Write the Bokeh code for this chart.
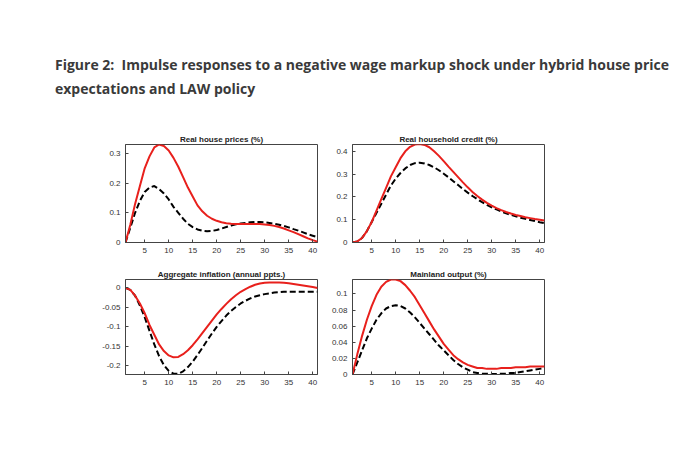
from bokeh.plotting import figure
from bokeh.layouts import column, row
from bokeh.models import Div, Spacer, Range1d, FixedTicker
from bokeh.embed import file_html
from bokeh.resources import INLINE

x = list(range(1, 42))
house_red = [0.0,0.06,0.13,0.19,0.25,0.29,0.32,0.33,0.325,0.31,0.285,0.255,0.22,0.185,0.155,0.125,0.105,0.09,0.08,0.073,0.068,0.065,0.063,0.062,0.062,0.062,0.062,0.062,0.062,0.061,0.059,0.056,0.052,0.047,0.041,0.035,0.028,0.021,0.014,0.008,0.003]
house_blk = [0,0.05,0.1,0.14,0.17,0.185,0.19,0.18,0.165,0.145,0.12,0.1,0.08,0.063,0.052,0.044,0.04,0.038,0.039,0.042,0.047,0.052,0.057,0.061,0.064,0.066,0.068,0.069,0.069,0.068,0.066,0.063,0.06,0.056,0.051,0.045,0.04,0.034,0.028,0.023,0.018]
credit_red = [0,0.005,0.02,0.05,0.09,0.14,0.19,0.24,0.29,0.33,0.37,0.4,0.42,0.43,0.432,0.428,0.418,0.4,0.38,0.357,0.333,0.31,0.287,0.264,0.242,0.222,0.204,0.188,0.174,0.162,0.151,0.142,0.134,0.127,0.121,0.116,0.111,0.107,0.103,0.1,0.097]
credit_blk = [0,0.005,0.02,0.05,0.09,0.13,0.17,0.21,0.25,0.28,0.305,0.325,0.34,0.348,0.35,0.347,0.34,0.33,0.317,0.302,0.286,0.269,0.252,0.235,0.219,0.204,0.19,0.177,0.165,0.154,0.145,0.136,0.128,0.121,0.115,0.109,0.104,0.099,0.094,0.089,0.085]
infl_red = [0,-0.005,-0.02,-0.04,-0.065,-0.095,-0.12,-0.145,-0.162,-0.173,-0.178,-0.177,-0.17,-0.16,-0.147,-0.132,-0.116,-0.1,-0.084,-0.068,-0.054,-0.041,-0.029,-0.019,-0.01,-0.003,0.003,0.008,0.011,0.013,0.014,0.014,0.014,0.013,0.012,0.01,0.008,0.006,0.004,0.002,0.0]
infl_blk = [0,-0.005,-0.02,-0.045,-0.075,-0.11,-0.145,-0.175,-0.198,-0.213,-0.22,-0.22,-0.214,-0.203,-0.189,-0.172,-0.154,-0.135,-0.117,-0.1,-0.085,-0.071,-0.059,-0.049,-0.04,-0.033,-0.027,-0.022,-0.019,-0.016,-0.014,-0.012,-0.011,-0.01,-0.01,-0.01,-0.01,-0.01,-0.01,-0.01,-0.01]
out_red = [0,0.025,0.048,0.068,0.085,0.099,0.109,0.115,0.118,0.118,0.116,0.111,0.104,0.096,0.086,0.076,0.066,0.056,0.047,0.038,0.031,0.024,0.019,0.015,0.012,0.01,0.008,0.008,0.007,0.007,0.007,0.008,0.008,0.008,0.009,0.009,0.009,0.01,0.01,0.01,0.01]
out_blk = [0,0.015,0.03,0.045,0.057,0.068,0.076,0.082,0.085,0.086,0.085,0.082,0.077,0.071,0.064,0.057,0.05,0.043,0.036,0.03,0.024,0.018,0.013,0.009,0.006,0.003,0.002,0.001,0.001,0.0005,0.0005,0.001,0.001,0.002,0.002,0.003,0.004,0.005,0.006,0.007,0.008]

titles = ["Real house prices (%)", "Real household credit (%)", "Aggregate inflation (annual ppts.)", "Mainland output (%)"]
x_ticks = [5, 10, 15, 20, 25, 30, 35, 40]
y_ticks = [[0, 0.1, 0.2, 0.3], [0, 0.1, 0.2, 0.3, 0.4], [-0.2, -0.15, -0.1, -0.05, 0], [0, 0.02, 0.04, 0.06, 0.08, 0.1]]
y_labels = [["0", "0.1", "0.2", "0.3"], ["0", "0.1", "0.2", "0.3", "0.4"], ["-0.2", "-0.15", "-0.1", "-0.05", "0"], ["0", "0.02", "0.04", "0.06", "0.08", "0.1"]]
y_ranges = [(0, 0.33), (0, 0.43), (-0.222, 0.0215), (0, 0.118)]
series = [(house_red, house_blk), (credit_red, credit_blk), (infl_red, infl_blk), (out_red, out_blk)]
frame_h = [98, 98, 95, 95]

def style_axis(ax):
    ax.major_tick_in = 3
    ax.major_tick_out = 0
    ax.minor_tick_line_color = None
    ax.axis_line_color = "#444444"
    ax.major_tick_line_color = "#444444"
    ax.major_label_text_font = "Arial"
    ax.major_label_text_font_size = "8px"
    ax.major_label_text_color = "#333333"

figs = []
for i in range(4):
    p = figure(frame_width=192, frame_height=frame_h[i], output_backend="svg", toolbar_location=None,
               x_range=Range1d(1, 41), y_range=Range1d(*y_ranges[i]),
               min_border_left=26, min_border_right=9, min_border_top=14, min_border_bottom=18,
               title=titles[i])
    p.title.text_font = "Arial"
    p.title.text_font_size = "8px"
    p.title.align = "center"
    p.title.text_color = "#222222"
    p.title.standoff = 1
    p.grid.visible = False
    p.outline_line_color = "#444444"
    p.xaxis.ticker = FixedTicker(ticks=x_ticks)
    p.yaxis.ticker = FixedTicker(ticks=y_ticks[i])
    p.yaxis.major_label_overrides = dict(zip(y_ticks[i], y_labels[i]))
    for ax in p.xaxis + p.yaxis:
        style_axis(ax)
    r, b = series[i]
    p.line(x, b, line_color="black", line_width=2, line_dash="6 3")
    p.line(x, r, line_color="#e8201c", line_width=2)
    figs.append(p)

title = Div(text='<div style="font-family:\'Open Sans\';font-weight:bold;font-size:14px;line-height:24px;color:#3a3a3a;padding-top:48px;padding-left:50px;">Figure 2:&nbsp; Impulse responses to a negative wage markup shock under hybrid house price expectations and LAW policy</div>',
            width=664, height=120)
layout = column(title,
                row(Spacer(width=99), figs[0], figs[1]),
                Spacer(height=5),
                row(Spacer(width=99), figs[2], figs[3]))
open("out.html", "w").write(file_html(layout, INLINE))
